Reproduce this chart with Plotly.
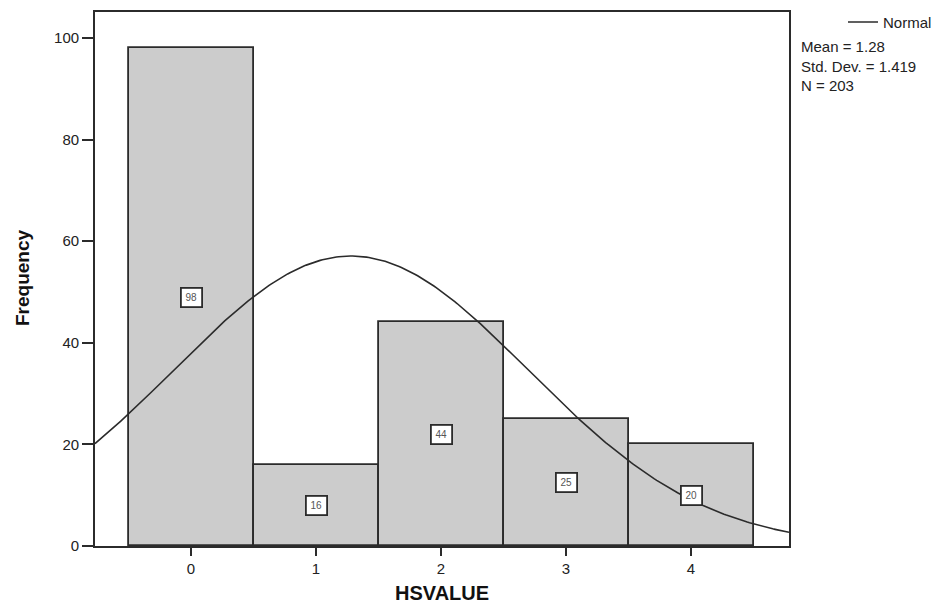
import numpy as np
import plotly.graph_objects as go

categories = [0, 1, 2, 3, 4]
frequencies = [98, 16, 44, 25, 20]
mean_val = 1.28
std_val = 1.419
n_val = 203
y_ticks = [0, 20, 40, 60, 80, 100]
x_title = "HSVALUE"
y_title = "Frequency"

x_min, x_max = -0.768, 4.784
y_min, y_max = 0, 105.1

PLOT_W, PLOT_H = 694, 534

fig = go.Figure()
fig.add_trace(go.Bar(
    x=categories, y=frequencies, width=1.0,
    marker=dict(color="#cccccc", line=dict(color="#2b2b2b", width=1.8)),
    hoverinfo="x+y", showlegend=False,
))

xs = np.linspace(x_min, x_max, 300)
ys = n_val * 1.0 / (std_val * np.sqrt(2 * np.pi)) * np.exp(-0.5 * ((xs - mean_val) / std_val) ** 2)
fig.add_trace(go.Scatter(x=xs, y=ys, mode="lines",
                         line=dict(color="#2b2b2b", width=1.6), showlegend=False))

for c, f in zip(categories, frequencies):
    fig.add_annotation(x=c, y=f / 2, text=str(f), showarrow=False,
                       font=dict(family="Liberation Sans, Arial", size=10, color="#555"),
                       bgcolor="white", bordercolor="#2b2b2b", borderwidth=1.8,
                       borderpad=1, width=17, height=15)

fig.update_layout(
    width=949, height=604,
    margin=dict(l=95, r=160, t=12, b=58),
    paper_bgcolor="white", plot_bgcolor="white",
    bargap=0,
    font=dict(family="Liberation Sans, Arial", color="#222"),
    xaxis=dict(range=[x_min, x_max], tickvals=categories, ticktext=[str(c) for c in categories],
               showgrid=False, zeroline=False, showline=True, linecolor="#2b2b2b", linewidth=1.8,
               mirror=True, ticks="outside", ticklen=8, tickcolor="#2b2b2b", tickwidth=1.8,
               tickfont=dict(size=15, color="#222"), automargin=False),
    yaxis=dict(range=[y_min, y_max], tickvals=y_ticks,
               showgrid=False, zeroline=False, showline=True, linecolor="#2b2b2b", linewidth=1.8,
               mirror=True, ticks="outside", ticklen=11, tickcolor="#2b2b2b", tickwidth=1.8,
               tickfont=dict(size=15, color="#222"), automargin=False),
)

# axis titles
fig.add_annotation(xref="paper", yref="paper", x=(442 - 95) / PLOT_W, y=-(593 - 546) / PLOT_H,
                   xanchor="center", yanchor="middle", showarrow=False,
                   text=f"<b>{x_title}</b>", font=dict(size=20, color="#111"))
fig.add_annotation(xref="paper", yref="paper", x=-(95 - 22) / PLOT_W, y=(546 - 278) / PLOT_H,
                   xanchor="center", yanchor="middle", showarrow=False, textangle=-90,
                   text=f"<b>{y_title}</b>", font=dict(size=19, color="#111"))

# legend-like text on the right
ly = 1 + (12 - 22) / PLOT_H
fig.add_shape(type="line", xref="paper", yref="paper",
              x0=(848 - 95) / PLOT_W, x1=(878 - 95) / PLOT_W, y0=ly, y1=ly,
              line=dict(color="#2b2b2b", width=1.5))
fig.add_annotation(xref="paper", yref="paper", x=(881 - 95) / PLOT_W, y=ly,
                   xanchor="left", yanchor="middle", showarrow=False, text="Normal",
                   font=dict(size=15, color="#222"))
fig.add_annotation(xref="paper", yref="paper", x=(799 - 95) / PLOT_W, y=1 + (12 - 36) / PLOT_H,
                   xanchor="left", yanchor="top", showarrow=False, align="left",
                   text=f"Mean = {mean_val:.2f}<br>Std. Dev. = {std_val:.3f}<br>N = {n_val}",
                   font=dict(size=15, color="#222"))

fig.write_html("out.html",
               config={"displayModeBar": False, "responsive": False},
               post_script="document.body.style.margin='0';document.body.style.overflow='hidden';")
